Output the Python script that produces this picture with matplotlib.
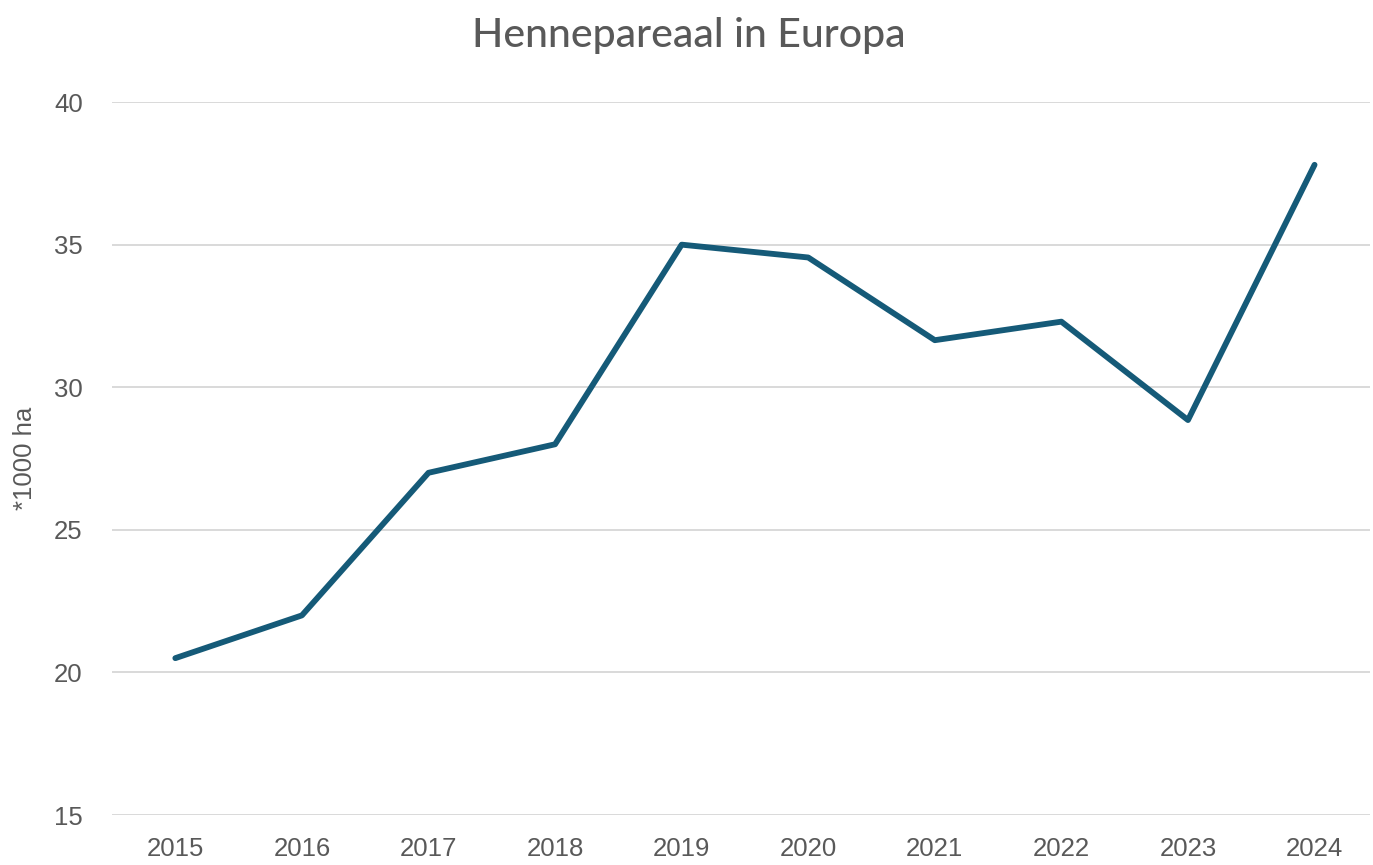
import numpy as np
import matplotlib.pyplot as plt

years = ["2015", "2016", "2017", "2018", "2019", "2020", "2021", "2022", "2023", "2024"]
areaThousandHa = [20.5, 22.0, 27.0, 28.0, 35.0, 34.55, 31.65, 32.3, 28.85, 37.8]
yTicks = [15, 20, 25, 30, 35, 40]

textColor = "#595959"
lineColor = "#155a78"


def plotFigure():
    fig = plt.figure(figsize=(13.73, 8.65), dpi=100)
    ax = fig.add_axes([0.0816, 0.0578, 0.9164, 0.8242])

    x = np.arange(len(years))
    ax.plot(x, areaThousandHa, color=lineColor, linewidth=4.2,
            solid_capstyle="round", solid_joinstyle="round", zorder=3)

    ax.set_xlim(-0.5, 9.44)
    ax.set_ylim(15, 40)
    ax.set_xticks(x)
    ax.set_xticklabels(years)
    ax.set_yticks(yTicks)

    ax.grid(axis="y", color="#d9d9d9", linewidth=1.4)
    ax.set_axisbelow(True)
    for spine in ax.spines.values():
        spine.set_visible(False)

    ax.tick_params(axis="both", length=0, labelsize=18.5, labelcolor=textColor)
    ax.tick_params(axis="y", pad=21)
    ax.tick_params(axis="x", pad=16)
    for label in ax.get_xticklabels() + ax.get_yticklabels():
        label.set_fontfamily("Liberation Sans")

    ax.set_ylabel("*1000 ha", fontsize=18.5, color=textColor,
                  fontfamily="Liberation Sans", labelpad=12)

    fig.suptitle("Hennepareaal in Europa", x=0.502, y=0.98, fontsize=29.5,
                 color=textColor, fontfamily="Lato", fontweight="medium")

    fig.savefig("out.png", dpi=100)


if __name__ == "__main__":
    plotFigure()
